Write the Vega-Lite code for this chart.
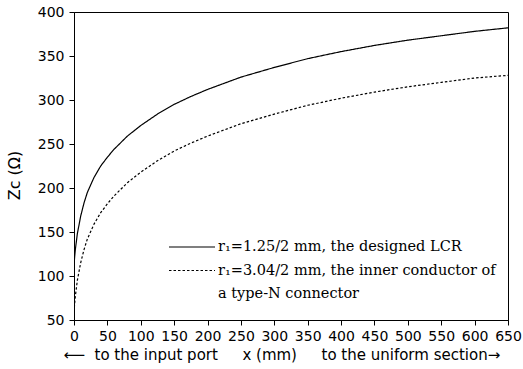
{
  "$schema": "https://vega.github.io/schema/vega-lite/v6.json",
  "width": 434,
  "height": 308,
  "autosize": {"type": "none"},
  "padding": {"left": 74, "top": 12, "right": 15, "bottom": 49},
  "background": "white",
  "data": {
    "values": [
      {"x": 0, "Zc": 112, "s": "a"}, {"x": 1, "Zc": 122, "s": "a"}, {"x": 2, "Zc": 130, "s": "a"}, {"x": 5, "Zc": 148, "s": "a"},
      {"x": 10, "Zc": 168, "s": "a"}, {"x": 15, "Zc": 183, "s": "a"}, {"x": 20, "Zc": 195, "s": "a"}, {"x": 30, "Zc": 212, "s": "a"},
      {"x": 40, "Zc": 225, "s": "a"}, {"x": 50, "Zc": 235, "s": "a"}, {"x": 60, "Zc": 244, "s": "a"}, {"x": 80, "Zc": 259, "s": "a"},
      {"x": 100, "Zc": 271, "s": "a"}, {"x": 125, "Zc": 284, "s": "a"}, {"x": 150, "Zc": 295, "s": "a"}, {"x": 175, "Zc": 304, "s": "a"},
      {"x": 200, "Zc": 312, "s": "a"}, {"x": 250, "Zc": 326, "s": "a"}, {"x": 300, "Zc": 337, "s": "a"}, {"x": 350, "Zc": 347, "s": "a"},
      {"x": 400, "Zc": 355, "s": "a"}, {"x": 450, "Zc": 362, "s": "a"}, {"x": 500, "Zc": 368, "s": "a"}, {"x": 550, "Zc": 373, "s": "a"},
      {"x": 600, "Zc": 378, "s": "a"}, {"x": 650, "Zc": 382, "s": "a"},
      {"x": 0, "Zc": 59, "s": "b"}, {"x": 1, "Zc": 69, "s": "b"}, {"x": 2, "Zc": 77, "s": "b"}, {"x": 5, "Zc": 95, "s": "b"},
      {"x": 10, "Zc": 115, "s": "b"}, {"x": 15, "Zc": 130, "s": "b"}, {"x": 20, "Zc": 142, "s": "b"}, {"x": 30, "Zc": 159, "s": "b"},
      {"x": 40, "Zc": 172, "s": "b"}, {"x": 50, "Zc": 182, "s": "b"}, {"x": 60, "Zc": 191, "s": "b"}, {"x": 80, "Zc": 206, "s": "b"},
      {"x": 100, "Zc": 218, "s": "b"}, {"x": 125, "Zc": 231, "s": "b"}, {"x": 150, "Zc": 242, "s": "b"}, {"x": 175, "Zc": 251, "s": "b"},
      {"x": 200, "Zc": 259, "s": "b"}, {"x": 250, "Zc": 273, "s": "b"}, {"x": 300, "Zc": 284, "s": "b"}, {"x": 350, "Zc": 294, "s": "b"},
      {"x": 400, "Zc": 302, "s": "b"}, {"x": 450, "Zc": 309, "s": "b"}, {"x": 500, "Zc": 315, "s": "b"}, {"x": 550, "Zc": 320, "s": "b"},
      {"x": 600, "Zc": 325, "s": "b"}, {"x": 650, "Zc": 328, "s": "b"}
    ]
  },
  "mark": {"type": "line", "color": "black", "strokeWidth": 1.2, "clip": true},
  "encoding": {
    "x": {
      "field": "x", "type": "quantitative",
      "scale": {"domain": [0, 650], "nice": false, "zero": false},
      "axis": {
        "values": [0, 50, 100, 150, 200, 250, 300, 350, 400, 450, 500, 550, 600, 650],
        "title": "⟵ \u00a0to the input port\u2003\u00a0\u00a0x (mm)\u2003\u00a0\u00a0to the uniform section→",
        "titleFont": "DejaVu Sans", "titleFontSize": 15, "titleFontWeight": "normal",
        "titleAnchor": "start", "titleAlign": "left", "titleX": -11, "titleY": 27, "titleBaseline": "top",
        "labelFont": "DejaVu Sans", "labelFontSize": 14, "labelColor": "black",
        "labelPadding": 4, "labelOverlap": false, "labelFlush": false,
        "tickSize": 5, "tickColor": "black", "domainColor": "black", "grid": false
      }
    },
    "y": {
      "field": "Zc", "type": "quantitative",
      "scale": {"domain": [50, 400], "nice": false, "zero": false},
      "axis": {
        "values": [50, 100, 150, 200, 250, 300, 350, 400],
        "title": "Zc (Ω)",
        "titleFont": "DejaVu Sans", "titleFontSize": 16, "titleFontWeight": "normal",
        "titlePadding": 15, "titleY": 163,
        "labelFont": "DejaVu Sans", "labelFontSize": 14, "labelColor": "black",
        "labelPadding": 5, "labelFlush": false,
        "tickSize": 5, "tickColor": "black", "domainColor": "black", "grid": false
      }
    },
    "strokeDash": {
      "field": "s", "type": "nominal",
      "scale": {"domain": ["a", "b", "c"], "range": [[1, 0], [2.5, 2], [0, 100]]},
      "legend": {
        "title": null,
        "orient": "none", "legendX": 94, "legendY": 226, "padding": 0,
        "symbolType": "stroke", "symbolSize": 2116, "symbolStrokeWidth": 1.2, "symbolStrokeColor": "black",
        "labelFont": "DejaVu Serif", "labelFontSize": 14.5, "labelColor": "black", "labelLimit": 500,
        "labelOffset": 2, "rowPadding": 5.5, "clipHeight": 18,
        "labelExpr": "datum.value == 'a' ? 'r₁=1.25/2 mm, the designed LCR' : datum.value == 'b' ? 'r₁=3.04/2 mm, the inner conductor of' : 'a type-N connector'"
      }
    }
  },
  "config": {"view": {"stroke": "black", "strokeWidth": 1}}
}
